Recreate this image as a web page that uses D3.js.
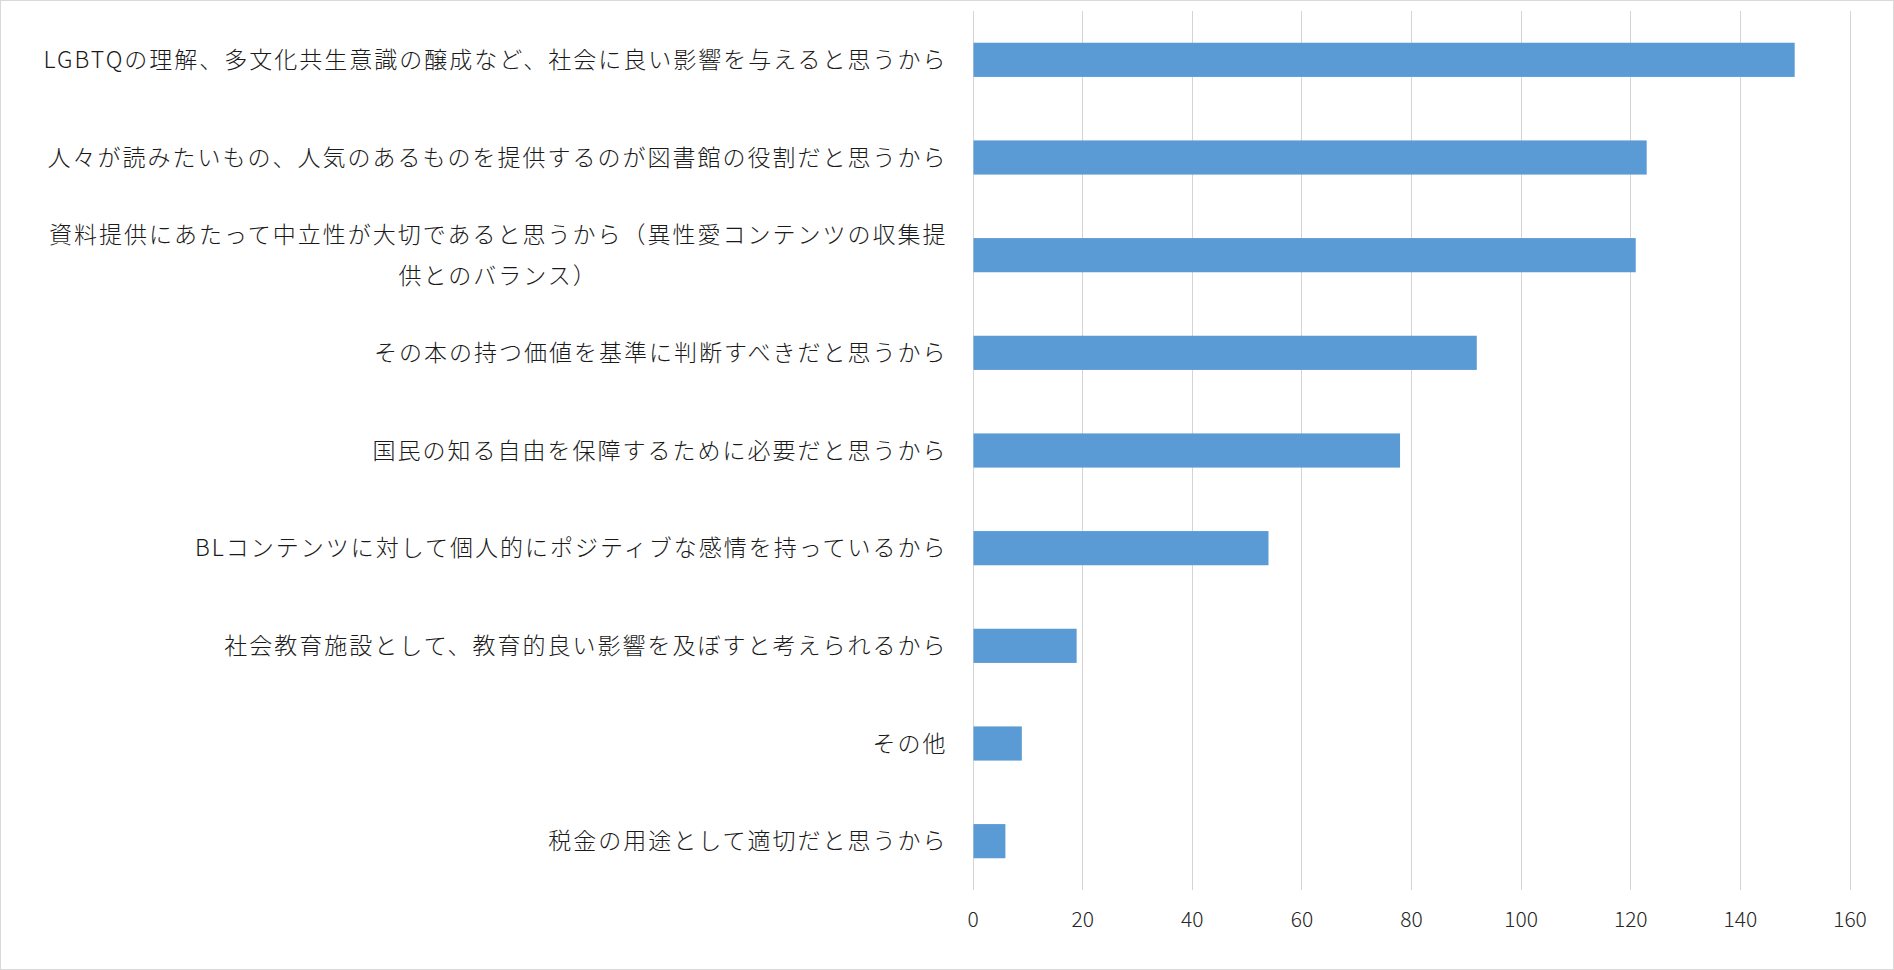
<!DOCTYPE html>
<html><head><meta charset="utf-8">
<script src="https://cdn.jsdelivr.net/npm/d3@7"></script>
<style>
html,body{margin:0;padding:0;background:#fff;}
svg{display:block;}
</style></head>
<body>
<script>
const categories = [
  "LGBTQの理解、多文化共生意識の醸成など、社会に良い影響を与えると思うから",
  "人々が読みたいもの、人気のあるものを提供するのが図書館の役割だと思うから",
  "資料提供にあたって中立性が大切であると思うから（異性愛コンテンツの収集提\n供とのバランス）",
  "その本の持つ価値を基準に判断すべきだと思うから",
  "国民の知る自由を保障するために必要だと思うから",
  "BLコンテンツに対して個人的にポジティブな感情を持っているから",
  "社会教育施設として、教育的良い影響を及ぼすと考えられるから",
  "その他",
  "税金の用途として適切だと思うから"
];
const values = [150, 123, 121, 92, 78, 54, 19, 9, 6];
const tickValues = [0, 20, 40, 60, 80, 100, 120, 140, 160];

const W = 1894, H = 970;
const margin = {left: 972.5, right: 44.5, top: 11, bottom: 80};
const font = "'Noto Sans CJK JP', 'Noto Sans', sans-serif";

const svg = d3.select("body").append("svg").attr("width", W).attr("height", H);
svg.append("rect").attr("x", 0.5).attr("y", 0.5).attr("width", W - 1).attr("height", H - 1)
  .attr("fill", "#fff").attr("stroke", "#d9d9d9");

const x = d3.scaleLinear().domain([0, 160]).range([margin.left, W - margin.right]);
const y = d3.scaleBand().domain(categories).range([margin.top, H - margin.bottom]).paddingInner(0.65).paddingOuter(0.325);

// gridlines
svg.append("g").selectAll("line").data(tickValues).join("line")
  .attr("x1", d => Math.round(x(d)) + 0.5).attr("x2", d => Math.round(x(d)) + 0.5)
  .attr("y1", margin.top).attr("y2", H - margin.bottom)
  .attr("stroke", "#d4d4d4").attr("stroke-width", 1);

// bars
svg.append("g").selectAll("rect").data(values).join("rect")
  .attr("x", x(0) + 1)
  .attr("y", (d, i) => y(categories[i]))
  .attr("width", d => x(d) - x(0) - 1)
  .attr("height", y.bandwidth())
  .attr("fill", "#5b9bd5");

// x axis
const xAxis = d3.axisBottom(x).tickValues(tickValues).tickSize(0).tickPadding(0);
const gx = svg.append("g").attr("transform", `translate(0, ${H - margin.bottom})`).call(xAxis);
gx.select(".domain").remove();
gx.selectAll("text").attr("font-family", font).attr("font-size", 21).attr("font-weight", 300)
  .attr("fill", "#262626").attr("dy", 0).attr("y", 37);

// y axis labels
const yAxis = d3.axisLeft(y).tickSize(0).tickPadding(0).tickFormat("");
const gy = svg.append("g").attr("transform", `translate(${margin.left}, 0)`).call(yAxis);
gy.select(".domain").remove();
const lx = -25;
gy.selectAll(".tick").each(function(d) {
  const lines = d.split("\n");
  const g = d3.select(this);
  g.select("text").remove();
  const lh = 41;
  const mk = (yy) => g.append("text").attr("y", yy).attr("dy", "0.35em")
      .attr("font-family", font).attr("font-size", 23)
      .attr("font-weight", 300).attr("letter-spacing", 2).attr("fill", "#1a1a1a");
  if (lines.length === 1) {
    mk(0).attr("x", lx).attr("text-anchor", "end").text(lines[0]);
  } else {
    const t1 = mk(-lh / 2).attr("x", lx).attr("text-anchor", "end").text(lines[0]);
    const w1 = t1.node().getComputedTextLength();
    mk(lh / 2).attr("x", lx - w1 / 2).attr("text-anchor", "middle").text(lines[1]);
  }
});
</script>
</body></html>
